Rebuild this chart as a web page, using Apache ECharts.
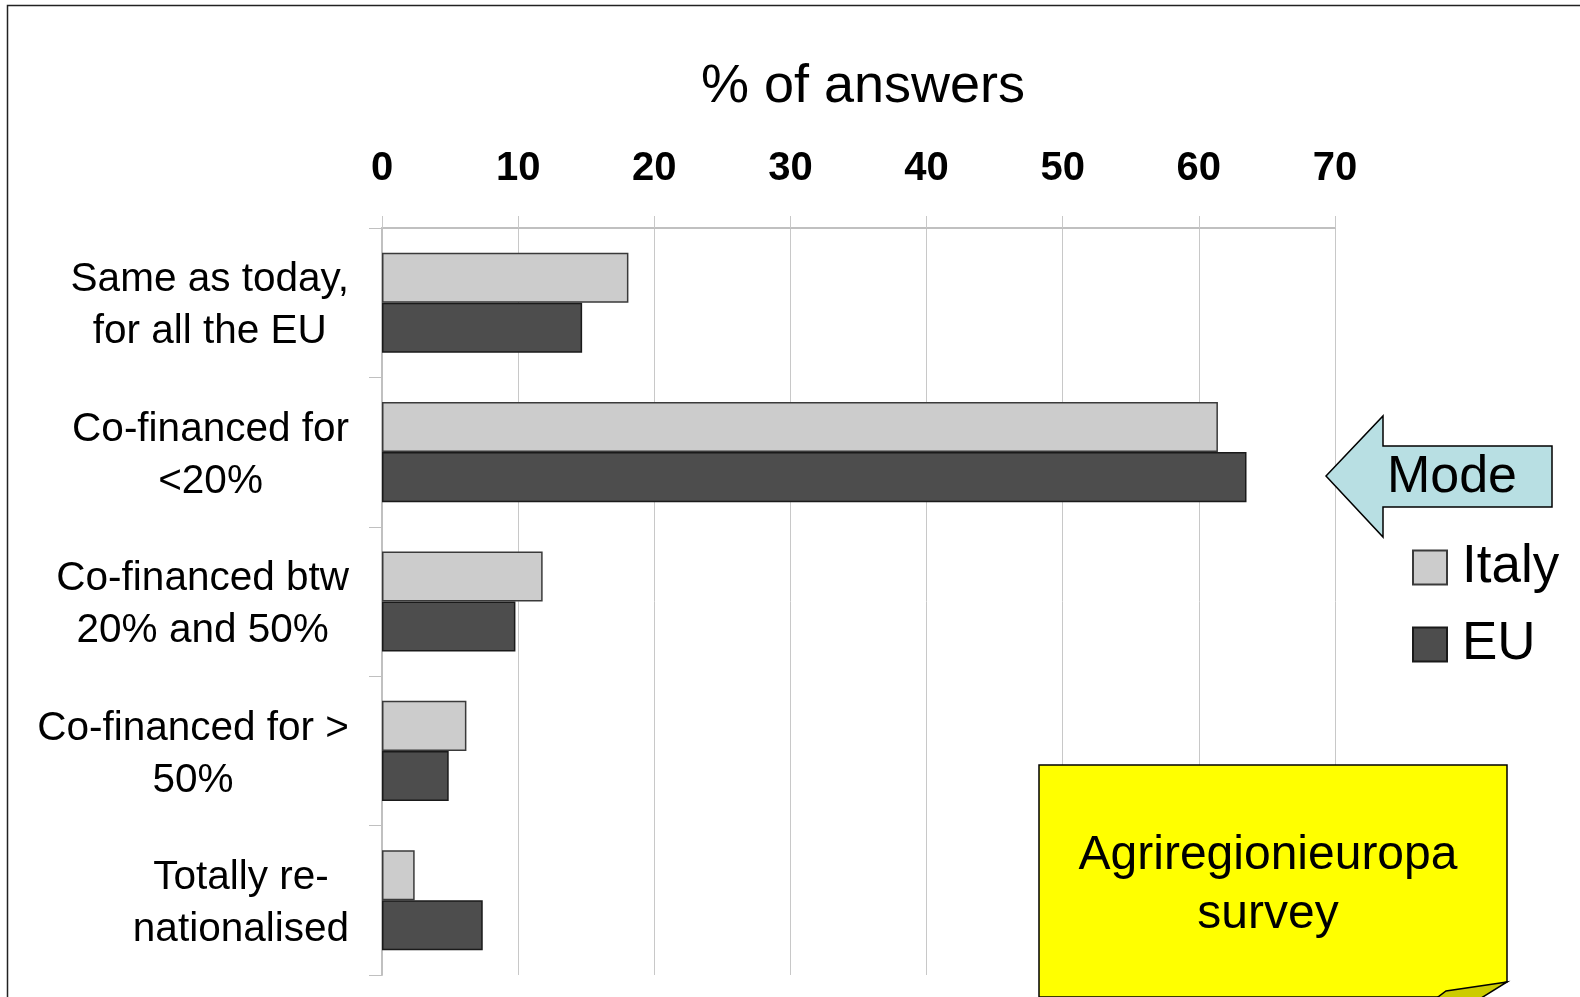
<!DOCTYPE html>
<html>
<head>
<meta charset="utf-8">
<script src="https://cdn.jsdelivr.net/npm/echarts@6/dist/echarts.min.js"></script>
<style>
  html, body { margin: 0; padding: 0; background: #fff; }
  #chart { width: 1580px; height: 997px; }
</style>
</head>
<body>
<div id="chart"></div>
<script>
// categories, top to bottom
const categories = [
  'Same as today,\nfor all the EU',
  'Co-financed for\n<20%',
  'Co-financed btw\n20% and 50%',
  'Co-financed for >\n50%',
  'Totally re-\nnationalised'
]
const italyValues = [18.1, 61.4, 11.8, 6.2, 2.4]
const euValues = [14.7, 63.5, 9.8, 4.9, 7.4]
const seriesNames = ['Italy', 'EU']
const axisMax = 70
const axisStep = 10

const chart = echarts.init(document.getElementById('chart'))

const font = '"Liberation Sans", Arial, sans-serif'

chart.setOption({
  animation: false,
  textStyle: { fontFamily: font },
  title: {
    text: '% of answers',
    left: 858,
    top: 55,
    textAlign: 'center',
    textStyle: { fontSize: 54, fontWeight: 'normal', color: '#000', fontFamily: font }
  },
  legend: {
    data: seriesNames,
    icon: 'rect',
    orient: 'vertical',
    left: 1407,
    top: 536,
    itemWidth: 34,
    itemHeight: 34,
    itemGap: 24,
    textStyle: { fontSize: 53, lineHeight: 50, color: '#000', padding: [0, 0, 0, 10] }
  },
  grid: {
    left: 382,
    right: 245,
    top: 228,
    bottom: 22,
    containLabel: false
  },
  xAxis: {
    type: 'value',
    position: 'top',
    min: 0,
    max: axisMax,
    interval: axisStep,
    axisLine: { show: true, lineStyle: { color: '#c0c0c0', width: 2 } },
    axisTick: { show: true, length: 12, lineStyle: { color: '#c8c8c8', width: 1 } },
    splitLine: { show: true, lineStyle: { color: '#c8c8c8', width: 1 } },
    axisLabel: {
      margin: 39,
      fontSize: 40,
      fontWeight: 'bold',
      color: '#000',
      fontFamily: font
    }
  },
  yAxis: {
    type: 'category',
    inverse: true,
    data: categories,
    axisLine: { show: true, lineStyle: { color: '#c0c0c0', width: 2 } },
    axisTick: { show: true, length: 13, lineStyle: { color: '#c0c0c0', width: 1 } },
    axisLabel: {
      margin: 33,
      align: 'right',
      padding: [7, 0, 0, 0],
      formatter: v => v.split('\n').map(l => '{c|' + l + '}').join('\n'),
      rich: {
        c: { align: 'center', fontSize: 40.5, lineHeight: 52, color: '#000', fontFamily: font }
      }
    }
  },
  series: [
    {
      name: seriesNames[0],
      type: 'bar',
      data: italyValues,
      barGap: '0%',
      barCategoryGap: '33%',
      itemStyle: { color: '#cccccc', borderColor: '#3a3a3a', borderWidth: 1.5 }
    },
    {
      name: seriesNames[1],
      type: 'bar',
      data: euValues,
      barGap: '0%',
      barCategoryGap: '33%',
      itemStyle: { color: '#4d4d4d', borderColor: '#1a1a1a', borderWidth: 1.5 }
    }
  ],
  graphic: [
    // outer frame
    {
      type: 'rect',
      shape: { x: 7.5, y: 5.5, width: 1620, height: 1040 },
      style: { fill: 'none', stroke: '#222', lineWidth: 1.5 },
      z: 10
    },
    // Mode arrow
    {
      type: 'polygon',
      shape: {
        points: [[1326, 476], [1383, 416], [1383, 446], [1552, 446], [1552, 507], [1383, 507], [1383, 537]]
      },
      style: { fill: '#b8dfe3', stroke: '#000', lineWidth: 1.5 },
      z: 10
    },
    {
      type: 'text',
      x: 1452,
      y: 478,
      style: {
        text: 'Mode',
        fontSize: 52,
        fontFamily: font,
        fill: '#000',
        align: 'center',
        verticalAlign: 'middle'
      },
      z: 11
    },
    // sticky note
    {
      type: 'polygon',
      shape: {
        points: [[1039, 765], [1507, 765], [1507, 982], [1448, 997], [1039, 997]]
      },
      style: { fill: '#ffff00', stroke: '#000', lineWidth: 1.5 },
      z: 10
    },
    {
      type: 'polygon',
      shape: {
        points: [[1507, 982], [1446, 991], [1434, 1000], [1478, 1000]]
      },
      style: { fill: '#cccc00', stroke: '#000', lineWidth: 1.5 },
      z: 11
    },
    {
      type: 'text',
      x: 1268,
      y: 885,
      style: {
        text: 'Agriregionieuropa\nsurvey',
        fontSize: 48,
        lineHeight: 59,
        fontFamily: font,
        fill: '#000',
        align: 'center',
        verticalAlign: 'middle'
      },
      z: 11
    }
  ]
})
</script>
</body>
</html>
